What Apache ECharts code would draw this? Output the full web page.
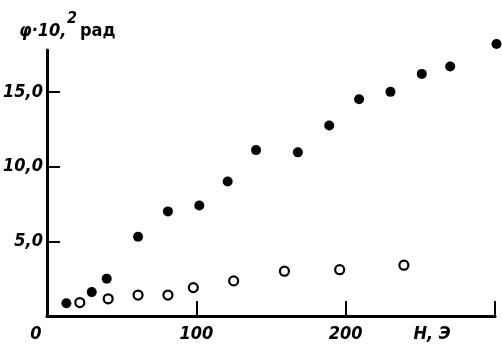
<!DOCTYPE html>
<html><head><meta charset="utf-8">
<script src="https://cdn.jsdelivr.net/npm/echarts@6/dist/echarts.min.js"></script>
<style>html,body{margin:0;padding:0;background:#fff}#c{width:502px;height:346px}</style>
</head><body><div id="c"></div>
<script>
// Filled circles
const filledH   = [13, 30, 40, 61, 81, 102, 121, 140, 168, 189, 209, 230, 251, 270, 301];
const filledPhi = [0.85, 1.6, 2.5, 5.3, 7.0, 7.4, 9.0, 11.1, 10.95, 12.75, 14.5, 15.0, 16.2, 16.7, 18.2];
// Open circles
const openH   = [22, 41, 61, 81, 98, 125, 159, 196, 239];
const openPhi = [0.9, 1.15, 1.4, 1.4, 1.9, 2.35, 3.0, 3.1, 3.4];
// Tick labels
const xLabelValues = [0, 100, 200];
const yLabelValues = [5, 10, 15];
const xName = 'H, Э';
const yNameMain = 'φ·10,';
const yNameSup = '2';
const yNameUnit = 'рад';

const FONT = "'DejaVu Sans Condensed','Liberation Sans Narrow','Liberation Sans',sans-serif";
const chart = echarts.init(document.getElementById('c'), null, {renderer: 'canvas'});
chart.setOption({
  animation: false,
  backgroundColor: '#fff',
  grid: {left: 46, right: 7, top: 50, bottom: 30},
  xAxis: {
    type: 'value', min: 0, max: 300, interval: 100,
    axisLine: {show: true, lineStyle: {color: '#000', width: 3}},
    axisTick: {show: true, inside: true, length: 15, lineStyle: {color: '#000', width: 2}, customValues: [100, 200, 300]},
    splitLine: {show: false},
    axisLabel: {
      customValues: xLabelValues, margin: 9, color: '#000',
      fontFamily: FONT, fontStyle: 'italic', fontWeight: 'bold', fontSize: 18,
      formatter: v => v === 0 ? '{z|0}' : String(v),
      rich: {z: {padding: [0, 22, 0, 0], fontFamily: FONT, fontStyle: 'italic', fontWeight: 'bold', fontSize: 18, color: '#000'}}
    }
  },
  yAxis: {
    type: 'value', min: 0, max: 17.8, interval: 5,
    axisLine: {show: true, lineStyle: {color: '#000', width: 3}},
    axisTick: {show: true, inside: true, length: 13, lineStyle: {color: '#000', width: 2}, customValues: yLabelValues},
    splitLine: {show: false},
    axisLabel: {
      customValues: yLabelValues, margin: 4, color: '#000',
      fontFamily: FONT, fontStyle: 'italic', fontWeight: 'bold', fontSize: 18,
      formatter: v => v.toFixed(1).replace('.', ',')
    }
  },
  series: [
    {type: 'scatter', symbol: 'circle', symbolSize: 10, clip: false,
     itemStyle: {color: '#000', opacity: 1},
     data: filledH.map((h, i) => [h, filledPhi[i]])},
    {type: 'scatter', symbol: 'circle', symbolSize: 9, clip: false,
     itemStyle: {color: '#fff', borderColor: '#000', borderWidth: 2.2, opacity: 1},
     data: openH.map((h, i) => [h, openPhi[i]])}
  ],
  graphic: [
    {type: 'text', x: 19, y: 31, style: {text: yNameMain, fill: '#000', font: "italic bold 18px " + FONT, verticalAlign: 'middle'}},
    {type: 'text', x: 67, y: 19, style: {text: yNameSup, fill: '#000', font: "italic bold 16px " + FONT, verticalAlign: 'middle'}},
    {type: 'text', x: 80, y: 31, style: {text: yNameUnit, fill: '#000', font: "bold 18px 'DejaVu Sans Condensed','Liberation Sans',sans-serif", verticalAlign: 'middle'}},
    {type: 'text', x: 432, y: 334, style: {text: xName, fill: '#000', font: "italic bold 18px " + FONT, align: 'center', verticalAlign: 'middle'}}
  ]
});
</script></body></html>
